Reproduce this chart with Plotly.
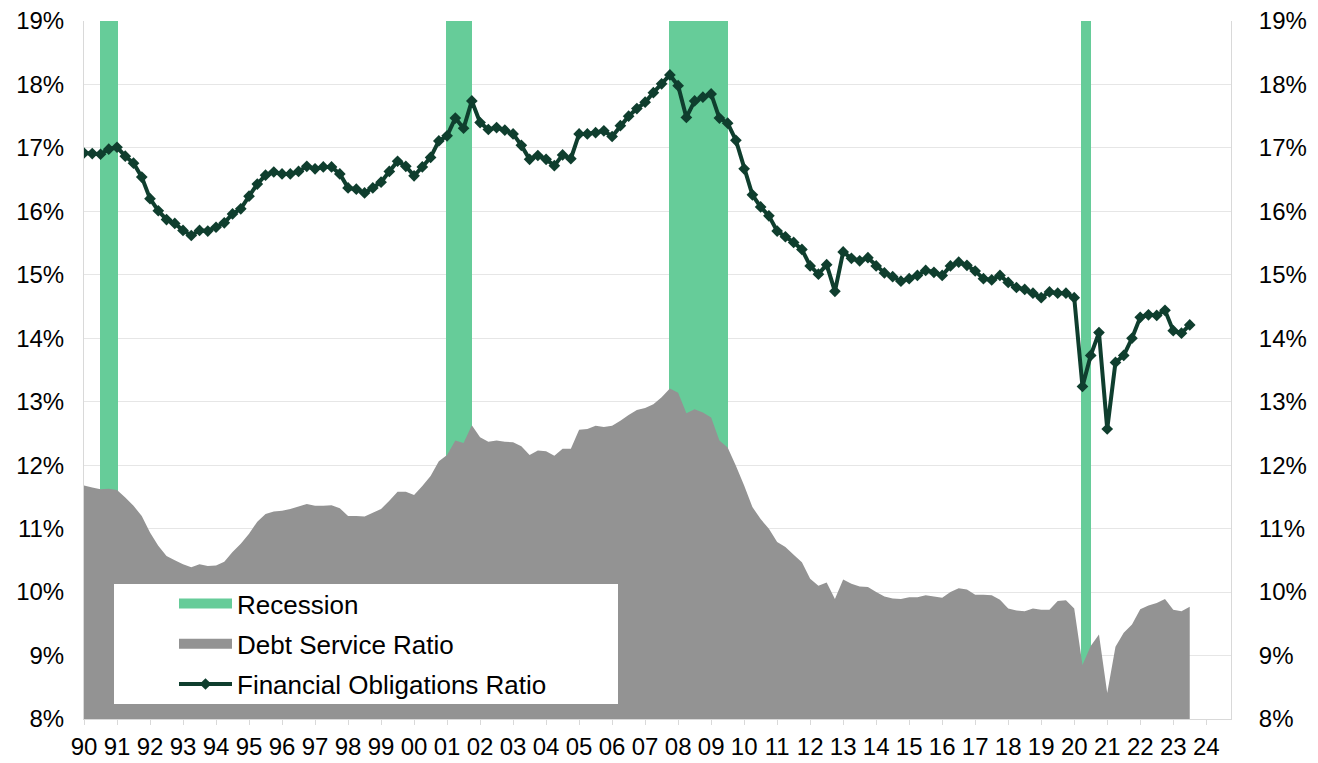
import plotly.graph_objects as go

# ---------------- data (quarterly, 1990Q1 .. 2023Q3) ----------------
START_YEAR = 1990

financial_obligations_ratio = [
    16.92, 16.91, 16.90, 16.98, 17.01, 16.87, 16.76, 16.54, 16.20, 16.01,
    15.87, 15.81, 15.70, 15.62, 15.70, 15.69, 15.75, 15.82, 15.96, 16.04,
    16.24, 16.43, 16.57, 16.62, 16.59, 16.59, 16.63, 16.71, 16.67, 16.70,
    16.70, 16.59, 16.37, 16.35, 16.29, 16.37, 16.46, 16.63, 16.79, 16.71,
    16.56, 16.70, 16.85, 17.11, 17.19, 17.47, 17.31, 17.74, 17.40, 17.29,
    17.32, 17.28, 17.22, 17.04, 16.82, 16.88, 16.82, 16.72, 16.89, 16.83,
    17.22, 17.22, 17.24, 17.27, 17.18, 17.35, 17.50, 17.62, 17.72, 17.87,
    18.01, 18.15, 17.98, 17.48, 17.74, 17.80, 17.85, 17.47, 17.39, 17.12,
    16.67, 16.26, 16.07, 15.93, 15.69, 15.60, 15.51, 15.40, 15.14, 15.01,
    15.16, 14.74, 15.36, 15.26, 15.22, 15.27, 15.14, 15.03, 14.97, 14.90,
    14.94, 14.99, 15.07, 15.04, 14.99, 15.14, 15.20, 15.15, 15.06, 14.94,
    14.92, 14.99, 14.88, 14.80, 14.77, 14.71, 14.64, 14.73, 14.71, 14.71,
    14.64, 13.24, 13.73, 14.09, 12.57, 13.62, 13.73, 14.00, 14.33, 14.37,
    14.36, 14.44, 14.12, 14.08, 14.21,
]

debt_service_ratio = [
    11.68, 11.65, 11.62, 11.63, 11.61, 11.49, 11.36, 11.20, 10.94, 10.73,
    10.57, 10.50, 10.44, 10.39, 10.44, 10.41, 10.42, 10.48, 10.63, 10.76,
    10.92, 11.11, 11.23, 11.27, 11.28, 11.31, 11.35, 11.39, 11.36, 11.36,
    11.37, 11.32, 11.20, 11.20, 11.19, 11.25, 11.31, 11.44, 11.58, 11.58,
    11.53, 11.67, 11.83, 12.06, 12.16, 12.39, 12.35, 12.63, 12.44, 12.37,
    12.39, 12.37, 12.36, 12.30, 12.16, 12.23, 12.22, 12.15, 12.26, 12.26,
    12.56, 12.57, 12.62, 12.60, 12.62, 12.70, 12.79, 12.87, 12.90, 12.96,
    13.07, 13.21, 13.14, 12.82, 12.88, 12.83, 12.75, 12.39, 12.28, 11.99,
    11.68, 11.34, 11.15, 11.00, 10.79, 10.71, 10.59, 10.47, 10.21, 10.10,
    10.15, 9.89, 10.20, 10.13, 10.09, 10.08, 10.00, 9.93, 9.90, 9.89,
    9.92, 9.92, 9.95, 9.93, 9.91, 10.00, 10.06, 10.04, 9.96, 9.96,
    9.95, 9.88, 9.74, 9.71, 9.70, 9.74, 9.72, 9.72, 9.86, 9.87,
    9.74, 8.85, 9.15, 9.33, 8.41, 9.14, 9.36, 9.49, 9.73, 9.79,
    9.83, 9.89, 9.72, 9.70, 9.77,
]

# recession bands (decimal years)
recession_start = [1990.47, 2000.97, 2007.72, 2020.21]
recession_end = [1991.02, 2001.77, 2009.52, 2020.52]

year_ticks = [1990, 1991, 1992, 1993, 1994, 1995, 1996, 1997, 1998, 1999,
              2000, 2001, 2002, 2003, 2004, 2005, 2006, 2007, 2008, 2009,
              2010, 2011, 2012, 2013, 2014, 2015, 2016, 2017, 2018, 2019,
              2020, 2021, 2022, 2023, 2024]
year_labels = ["90", "91", "92", "93", "94", "95", "96", "97", "98", "99",
               "00", "01", "02", "03", "04", "05", "06", "07", "08", "09",
               "10", "11", "12", "13", "14", "15", "16", "17", "18", "19",
               "20", "21", "22", "23", "24"]
pct_ticks = [8, 9, 10, 11, 12, 13, 14, 15, 16, 17, 18, 19]
pct_labels = ["8%", "9%", "10%", "11%", "12%", "13%", "14%", "15%",
              "16%", "17%", "18%", "19%"]

Y_MIN, Y_MAX = 8, 19
X_MIN, X_MAX = 1990, 2024.75

# quarterly positions
periods = [START_YEAR + k / 4 for k in range(len(financial_obligations_ratio))]

# ---------------- styling ----------------
GREEN = "#66CC99"
GRAY = "#939393"
DARK = "#0F3E2E"
FONT = "Arial, Liberation Sans, sans-serif"

fig = go.Figure()

# recession bands
fig.add_trace(go.Bar(
    name="Recession",
    x=[(s + e) / 2 for s, e in zip(recession_start, recession_end)],
    width=[e - s for s, e in zip(recession_start, recession_end)],
    y=[Y_MAX - Y_MIN] * len(recession_start),
    base=Y_MIN,
    marker=dict(color=GREEN, line=dict(width=0)),
    hoverinfo="skip", showlegend=False, legendgroup="rec",
))
# legend swatch for recession
fig.add_trace(go.Scatter(
    name="Recession", x=[None], y=[None], mode="lines",
    line=dict(color=GREEN, width=14), legendgroup="rec",
))

# debt service ratio (area)
fig.add_trace(go.Scatter(
    name="Debt Service Ratio",
    x=periods, y=debt_service_ratio,
    mode="none", fill="tozeroy", fillcolor=GRAY,
    showlegend=False, legendgroup="dsr",
))
fig.add_trace(go.Scatter(
    name="Debt Service Ratio", x=[None], y=[None], mode="lines",
    line=dict(color=GRAY, width=14), legendgroup="dsr",
))

# financial obligations ratio (line on right axis, drawn on top)
fig.add_trace(go.Scatter(
    name="Financial Obligations Ratio",
    x=periods, y=financial_obligations_ratio,
    mode="lines+markers", yaxis="y2",
    line=dict(color=DARK, width=4),
    marker=dict(symbol="diamond", size=9, color=DARK),
    legendgroup="for",
))

# plot-area geometry in pixels (for paper coordinates of the legend box)
W, H = 1318, 763
ML, MR, MT, MB = 84, 87, 21, 44
PW, PH = W - ML - MR, H - MT - MB


def px_x(px):
    return (px - ML) / PW


def px_y(py):
    return (H - MB - py) / PH


fig.add_shape(type="rect", xref="paper", yref="paper",
              x0=px_x(114), x1=px_x(618), y0=px_y(704), y1=px_y(584),
              fillcolor="white", line=dict(width=0), layer="above")

axis_font = dict(family=FONT, size=24, color="black")

fig.update_layout(
    width=W, height=H,
    margin=dict(l=ML, r=MR, t=MT, b=MB, pad=0, autoexpand=False),
    paper_bgcolor="white", plot_bgcolor="white",
    font=dict(family=FONT, color="black"),
    bargap=0,
    showlegend=True,
    legend=dict(
        x=px_x(174), y=px_y(580), xanchor="left", yanchor="top",
        bgcolor="rgba(0,0,0,0)", borderwidth=0,
        font=dict(family=FONT, size=26, color="black"),
        itemwidth=53, tracegroupgap=3.5, traceorder="grouped",
    ),
    xaxis=dict(
        range=[X_MIN, X_MAX], tickmode="array", tickvals=year_ticks, ticktext=year_labels,
        ticks="outside", ticklen=5, tickcolor="#D9D9D9", tickfont=axis_font,
        showgrid=False, showline=True, linecolor="#D9D9D9", linewidth=1, zeroline=False,
        automargin=False, ticklabelstandoff=1,
    ),
    yaxis=dict(
        range=[Y_MIN, Y_MAX], tickmode="array", tickvals=pct_ticks, ticktext=pct_labels,
        showgrid=True, gridcolor="#E6E6E6", gridwidth=1,
        showline=True, linecolor="#D9D9D9", zeroline=False, ticks="",
        tickfont=axis_font, ticklabelstandoff=14, automargin=False,
    ),
    yaxis2=dict(
        range=[Y_MIN, Y_MAX], tickmode="array", tickvals=pct_ticks, ticktext=pct_labels,
        overlaying="y", side="right", showgrid=False,
        showline=True, linecolor="#D9D9D9", zeroline=False, ticks="",
        tickfont=axis_font, ticklabelstandoff=22, automargin=False,
    ),
)

fig.write_html("out.html", config={"displayModeBar": False},
               post_script="document.body.style.margin='0';")
